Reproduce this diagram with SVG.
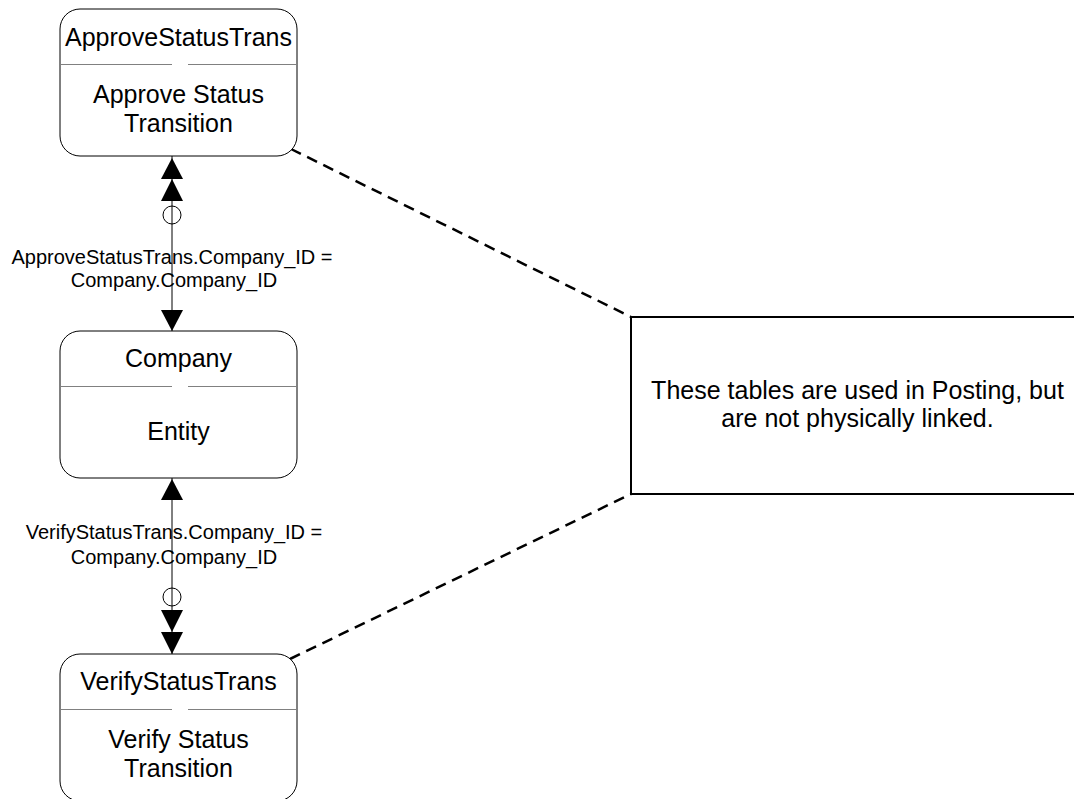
<svg xmlns="http://www.w3.org/2000/svg" width="1074" height="799" viewBox="0 0 1074 799">
<style>
.box{fill:#fff;stroke:#000;stroke-width:1}
.div{stroke:#808080;stroke-width:1;fill:none}
.t{font-family:"Liberation Sans",Arial,sans-serif;font-size:25px;fill:#000;text-anchor:middle}
.lbl{font-family:"Liberation Sans",Arial,sans-serif;font-size:20px;fill:#000;text-anchor:middle}
.ln{stroke:#000;stroke-width:1;fill:none}
.dash{stroke:#000;stroke-width:2.5;fill:none;stroke-dasharray:11 7}
.ah{fill:#000;stroke:none}
.circ{fill:#fff;stroke:#000;stroke-width:1}
</style>
<rect width="1074" height="799" fill="#fff"/>
<g id="connectors">
  <line class="dash" x1="291" y1="149" x2="631" y2="317"/>
  <line class="dash" x1="290" y1="659" x2="631" y2="494"/>
  <line class="ln" x1="172" y1="156" x2="172" y2="331"/>
  <polygon class="ah" points="172,158 161,179 183,179"/>
  <polygon class="ah" points="172,179 161,201 183,201"/>
  <circle class="circ" cx="172" cy="215" r="9"/>
  <line class="ln" x1="172" y1="206" x2="172" y2="224"/>
  <polygon class="ah" points="172,331 161,310 183,310"/>
  <text class="lbl" x="172" y="264">ApproveStatusTrans.Company_ID =</text>
  <text class="lbl" x="174" y="287">Company.Company_ID</text>
  <line class="ln" x1="172" y1="478" x2="172" y2="654"/>
  <polygon class="ah" points="172,479 161,500 183,500"/>
  <circle class="circ" cx="172" cy="597" r="9"/>
  <line class="ln" x1="172" y1="588" x2="172" y2="606"/>
  <polygon class="ah" points="172,632 161,610 183,610"/>
  <polygon class="ah" points="172,654 161,632 183,632"/>
  <text class="lbl" x="174" y="539">VerifyStatusTrans.Company_ID =</text>
  <text class="lbl" x="174" y="564">Company.Company_ID</text>
</g>
<g id="node-approve">
  <rect class="box" x="60" y="9" width="237" height="147" rx="20" ry="20"/>
  <path class="div" d="M60 64.5H172M188 64.5H297"/>
  <text class="t" x="178.5" y="46">ApproveStatusTrans</text>
  <text class="t" x="178.5" y="103">Approve Status</text>
  <text class="t" x="178.5" y="132">Transition</text>
</g>
<g id="node-company">
  <rect class="box" x="60" y="331" width="237" height="147" rx="20" ry="20"/>
  <path class="div" d="M60 386.5H172M188 386.5H297"/>
  <text class="t" x="178.5" y="367">Company</text>
  <text class="t" x="178.5" y="440">Entity</text>
</g>
<g id="node-verify">
  <rect class="box" x="60" y="654" width="237" height="147" rx="20" ry="20"/>
  <path class="div" d="M60 709.5H172M188 709.5H297"/>
  <text class="t" x="178.5" y="690">VerifyStatusTrans</text>
  <text class="t" x="178.5" y="748">Verify Status</text>
  <text class="t" x="178.5" y="777">Transition</text>
</g>
<g id="note">
  <rect x="631" y="317" width="460" height="177" fill="#fff" stroke="#000" stroke-width="2"/>
  <text class="t" x="857.5" y="399">These tables are used in Posting, but</text>
  <text class="t" x="857.5" y="427">are not physically linked.</text>
</g>
</svg>
